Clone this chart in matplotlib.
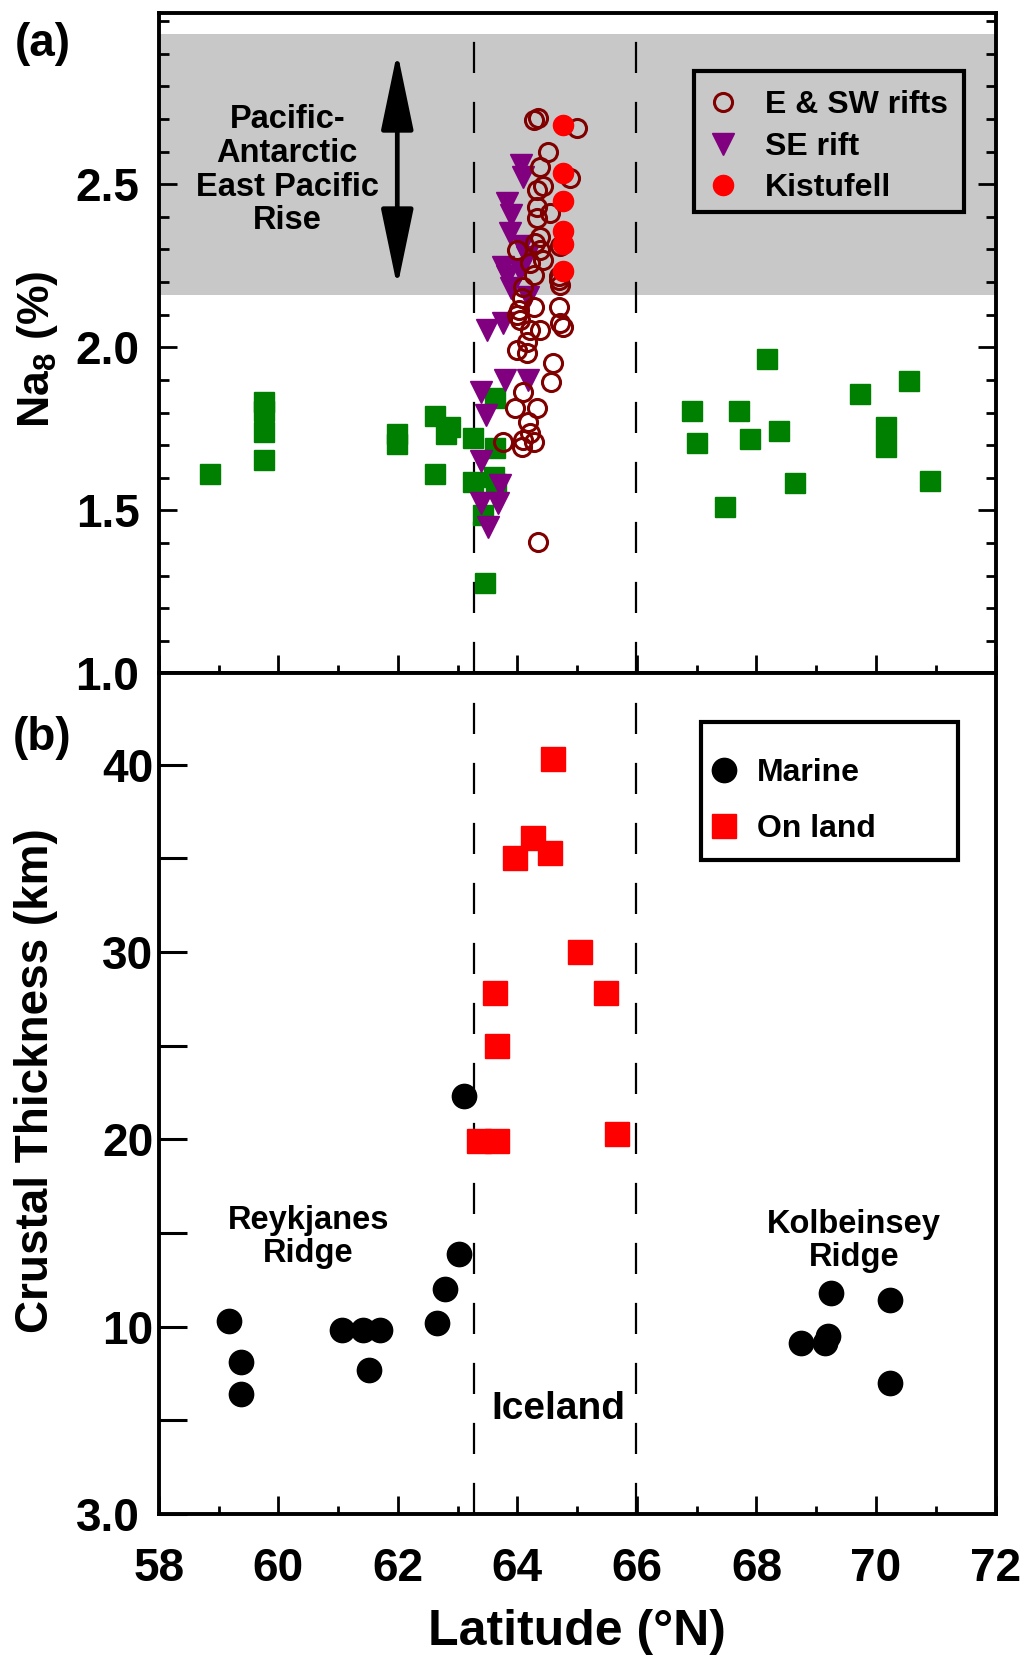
import matplotlib
matplotlib.use('Agg')
import matplotlib.pyplot as plt
from matplotlib.patches import Rectangle
from matplotlib.ticker import MultipleLocator, FixedLocator

plt.rcParams['font.family'] = ['Liberation Sans', 'DejaVu Sans']
plt.rcParams['font.weight'] = 'bold'
plt.rcParams['mathtext.fontset'] = 'custom'
plt.rcParams['mathtext.rm'] = 'Liberation Sans:bold'
plt.rcParams['mathtext.it'] = 'Liberation Sans:bold'
plt.rcParams['mathtext.bf'] = 'Liberation Sans:bold'

# (a) Na8 vs latitude
ridge_lat = [58.86, 59.76, 59.76, 59.76, 59.76, 61.99, 61.99, 62.62, 62.87, 62.81,
             62.62, 63.26, 63.26, 63.63, 63.63, 63.60, 63.65, 63.43, 63.45,
             66.92, 67.00, 67.70, 67.89, 68.17, 68.37, 68.64, 67.47,
             69.73, 70.17, 70.17, 70.56, 70.90]
ridge_na8 = [1.612, 1.833, 1.806, 1.741, 1.655, 1.734, 1.704, 1.790, 1.757, 1.733,
             1.612, 1.721, 1.588, 1.844, 1.690, 1.603, 1.580, 1.486, 1.277,
             1.806, 1.706, 1.806, 1.719, 1.963, 1.742, 1.583, 1.511,
             1.856, 1.755, 1.694, 1.898, 1.590]

sw_lat = [64.27, 64.35, 64.99, 64.52, 64.38, 64.88, 64.43, 64.32, 64.55, 64.32,
          64.32, 64.38, 64.30, 63.99, 64.38, 64.43, 64.21, 64.27, 64.69, 64.72,
          64.10, 64.07, 64.27, 64.02, 64.69, 64.05, 64.72, 64.77, 64.38, 64.21,
          64.72, 64.69, 64.16, 63.99,
          63.99, 64.16, 64.60, 64.57, 64.10, 63.96, 64.32, 64.18, 64.21, 64.10,
          64.27, 63.76, 64.07, 64.35]
sw_na8 = [2.697, 2.702, 2.672, 2.600, 2.554, 2.519, 2.493, 2.483, 2.411, 2.431,
          2.396, 2.339, 2.319, 2.299, 2.299, 2.268, 2.258, 2.222, 2.217, 2.191,
          2.186, 2.151, 2.125, 2.115, 2.125, 2.084, 2.074, 2.063, 2.053, 2.053,
          2.309, 2.207, 2.017, 2.100,
          1.992, 1.982, 1.951, 1.895, 1.864, 1.813, 1.813, 1.772, 1.737, 1.716,
          1.711, 1.711, 1.695, 1.404]

se_lat = [64.06, 64.09, 63.82, 63.89, 63.87, 64.07, 63.76, 63.82, 63.90, 64.04,
          64.16, 64.18, 63.49, 63.76, 63.79, 64.18, 63.39, 63.47, 63.39, 63.71,
          63.39, 63.68, 63.51]
se_na8 = [2.559, 2.523, 2.442, 2.406, 2.350, 2.309, 2.247, 2.217, 2.181, 2.237,
          2.278, 2.155, 2.053, 2.074, 1.900, 1.900, 1.864, 1.793, 1.650, 1.578,
          1.522, 1.522, 1.450]

kist_lat = [64.77, 64.77, 64.77, 64.77, 64.77, 64.77]
kist_na8 = [2.682, 2.534, 2.447, 2.356, 2.316, 2.235]

# (b) crustal thickness vs latitude
marine_lat = [59.17, 59.37, 59.37, 61.07, 61.42, 61.70, 61.51, 62.66, 62.79, 63.02,
              63.10, 68.74, 69.15, 69.20, 69.24, 70.23, 70.23]
marine_thk = [10.3, 8.1, 6.4, 9.8, 9.8, 9.8, 7.7, 10.2, 12.0, 13.9,
              22.3, 9.1, 9.1, 9.5, 11.8, 11.4, 7.0]

land_lat = [64.59, 64.26, 63.96, 64.54, 65.04, 63.62, 65.48, 63.66, 63.36, 63.66, 65.66]
land_thk = [40.3, 36.1, 35.0, 35.3, 30.0, 27.8, 27.8, 25.0, 19.9, 19.9, 20.3]

iceland_edges = [63.28, 65.98]
epr_band = (2.16, 2.96)

fig = plt.figure(figsize=(10.24, 16.6), dpi=100)
ax1 = fig.add_axes([0.1551, 0.5943, 0.8171, 0.3981])
ax2 = fig.add_axes([0.1551, 0.0880, 0.8171, 0.5063])

LW = 2.8
TICK_FS = 33
LEG_FS = 23

for ax in (ax1, ax2):
    for s in ax.spines.values():
        s.set_linewidth(LW)
    ax.set_xlim(58, 72)
    ax.xaxis.set_major_locator(MultipleLocator(2))
    ax.xaxis.set_minor_locator(MultipleLocator(1))
    for x in iceland_edges:
        ax.axvline(x, color='k', lw=1.6, ls=(0, (14, 13)), zorder=1)

# ---- panel (a)
ax1.axhspan(*epr_band, color='#c8c8c8', lw=0, zorder=0)
ax1.set_ylim(1.0, 3.026)
ax1.yaxis.set_major_locator(FixedLocator([1.0, 1.5, 2.0, 2.5]))
ax1.yaxis.set_minor_locator(MultipleLocator(0.1))
ax1.tick_params(axis='y', which='both', direction='in', left=True, right=True,
                width=2, labelsize=TICK_FS, pad=14)
ax1.tick_params(axis='y', which='major', length=13)
ax1.tick_params(axis='y', which='minor', length=7)
ax1.tick_params(axis='x', which='both', direction='in', bottom=True, top=False,
                labelbottom=False, width=2)
ax1.tick_params(axis='x', which='major', length=13)
ax1.tick_params(axis='x', which='minor', length=6)
ax1.set_yticklabels(['1.0', '1.5', '2.0', '2.5'])

ax1.plot(ridge_lat, ridge_na8, 's', color='#008000', ms=15, mec='#008000', zorder=3)
ax1.plot(se_lat, se_na8, 'v', color='#800080', ms=15.5, mec='#800080', zorder=4,
         label='SE rift')
ax1.plot(sw_lat, sw_na8, 'o', mfc='none', mec='#800000', mew=2.2, ms=13, zorder=5,
         label='E & SW rifts')
ax1.plot(kist_lat, kist_na8, 'o', color='#ff0000', mec='#ff0000', ms=14.5, zorder=6,
         label='Kistufell')

h, l = ax1.get_legend_handles_labels()
order = [1, 0, 2]
leg1 = ax1.legend([h[i] for i in order], [l[i] for i in order],
                  loc='center left', bbox_to_anchor=(0.6556, 0.797),
                  borderaxespad=0, borderpad=0, fontsize=LEG_FS, frameon=False,
                  handlelength=1.0, handletextpad=0.79, labelspacing=0.36)
ax1.add_patch(Rectangle((0.6392, 0.6987), 0.3228, 0.2131, transform=ax1.transAxes,
                        fill=False, ec='k', lw=3, zorder=7))

ax1.annotate('', xy=(61.99, 2.905), xytext=(61.99, 2.185),
             arrowprops=dict(arrowstyle='<|-|>,head_length=2.4,head_width=0.5',
                             lw=3.4, color='k', mutation_scale=20,
                             shrinkA=0, shrinkB=0))
ax1.text(60.15, 2.543, 'Pacific-\nAntarctic\nEast Pacific\nRise', ha='center',
         va='center', fontsize=23.5, fontweight='bold', linespacing=1.12)
ax1.set_ylabel(r'Na$_8$ (%)', fontsize=32, fontweight='bold')
ax1.yaxis.set_label_coords(-0.118, 0.49)

# ---- panel (b)
ax2.set_ylim(0, 44.86)
ax2.yaxis.set_major_locator(FixedLocator([0, 10, 20, 30, 40]))
ax2.yaxis.set_minor_locator(FixedLocator([5, 15, 25, 35]))
ax2.set_yticklabels(['3.0', '10', '20', '30', '40'])
ax2.tick_params(axis='y', which='both', direction='in', left=True, right=False,
                width=2.2, length=20, labelsize=TICK_FS, pad=4)
ax2.yaxis.get_major_ticks()[0].set_pad(14)
ax2.tick_params(axis='x', which='both', direction='in', bottom=True, top=False,
                width=2, labelsize=TICK_FS, pad=24)
ax2.tick_params(axis='x', which='major', length=13)
ax2.tick_params(axis='x', which='minor', length=6)

ax2.plot(marine_lat, marine_thk, 'o', color='k', ms=17.5, zorder=3, label='Marine')
ax2.plot(land_lat, land_thk, 's', color='#ff0000', ms=17, zorder=3, label='On land')
leg2 = ax2.legend(loc='center left', bbox_to_anchor=(0.6564, 0.848),
                  borderaxespad=0, borderpad=0, fontsize=LEG_FS, frameon=False,
                  handlelength=1.0, handletextpad=0.53, labelspacing=0.8)
ax2.add_patch(Rectangle((0.6480, 0.7782), 0.3077, 0.1639, transform=ax2.transAxes,
                        fill=False, ec='k', lw=3, zorder=7))

ax2.text(60.50, 14.78, 'Reykjanes\nRidge', ha='center', va='center',
         fontsize=23.5, fontweight='bold', linespacing=1.12)
ax2.text(69.63, 14.57, 'Kolbeinsey\nRidge', ha='center', va='center',
         fontsize=23.5, fontweight='bold', linespacing=1.12)
ax2.text(64.68, 5.58, 'Iceland', ha='center', va='center', fontsize=28,
         fontweight='bold')
ax2.set_ylabel('Crustal Thickness (km)', fontsize=33, fontweight='bold')
ax2.yaxis.set_label_coords(-0.120, 0.515)
ax2.set_xlabel('Latitude (\u00b0N)', fontsize=36, fontweight='bold', labelpad=13)

fig.text(0.0414, 0.9732, '(a)', fontsize=33, fontweight='bold', ha='center', va='center')
fig.text(0.0414, 0.5554, '(b)', fontsize=33, fontweight='bold', ha='center', va='center')

fig.savefig('out.png', dpi=100)
